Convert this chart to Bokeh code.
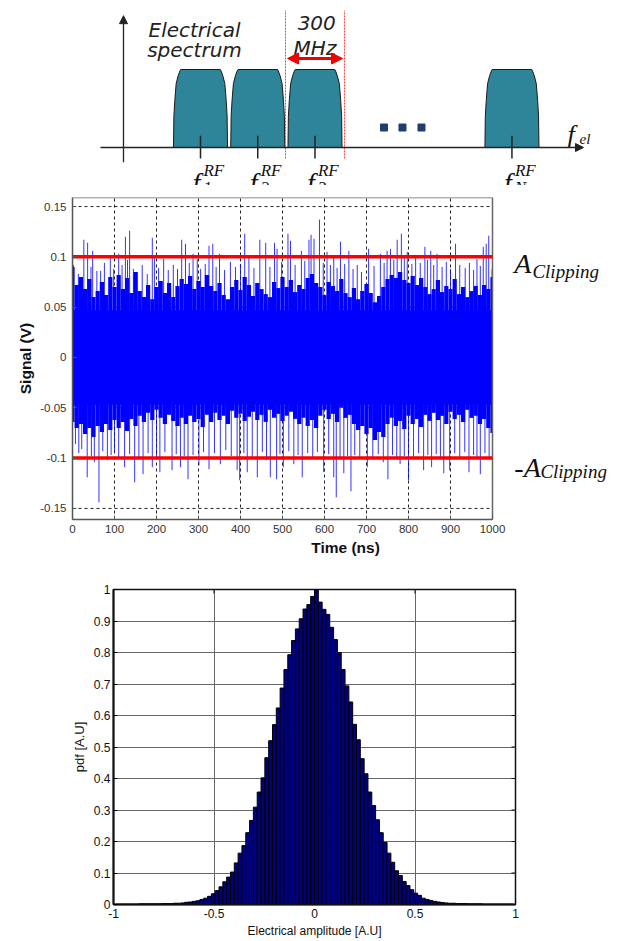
from bokeh.plotting import figure
from bokeh.models import Range1d, Arrow, NormalHead, FixedTicker, NumeralTickFormatter
from bokeh.core.properties import value
from bokeh.embed import file_html
from bokeh.resources import INLINE

# ======================= DATA =======================
# (a) electrical spectrum schematic  (x: channel-spacing units, y: relative level)
channel_names = ["1", "2", "3", "N"]
channel_freq = [1.0, 2.0, 3.0, 6.44]
ellipsis_freq = [4.205, 4.528, 4.86]
ellipsis_level = 0.256
band_edges = [2.485, 3.515]          # one 300 MHz channel slot
band_label = ["300", "MHz"]
band_level = 1.0
spectrum_title = ["Electrical", "spectrum"]
freq_axis_span = [-0.747, 7.69]
level_axis_pos = -0.345
level_axis_span = [-0.19, 1.69]

# (b) time-domain signal
time_ticks = [0, 100, 200, 300, 400, 500, 600, 700, 800, 900, 1000]
signal_ticks = [-0.15, -0.1, -0.05, 0, 0.05, 0.1, 0.15]
signal_lims = [-0.161, 0.159]
clip_level = 0.1
clip_labels = ["A", "Clipping", "-A", "Clipping"]
core_level = 0.047
env_time = list(range(0, 1001, 10))
env_upper = [
    0.090, 0.072, 0.080, 0.068, 0.078, 0.060, 0.066, 0.075, 0.062, 0.080,
    0.070, 0.082, 0.068, 0.079, 0.064, 0.085, 0.066, 0.060, 0.072, 0.058,
    0.070, 0.076, 0.064, 0.074, 0.060, 0.071, 0.078, 0.073, 0.081, 0.068,
    0.076, 0.070, 0.082, 0.071, 0.066, 0.074, 0.062, 0.058, 0.070, 0.077,
    0.067, 0.080, 0.072, 0.061, 0.074, 0.068, 0.063, 0.060, 0.075, 0.069,
    0.080, 0.070, 0.077, 0.065, 0.072, 0.068, 0.079, 0.083, 0.074, 0.070,
    0.062, 0.075, 0.071, 0.066, 0.078, 0.064, 0.060, 0.069, 0.058, 0.066,
    0.073, 0.064, 0.055, 0.061, 0.070, 0.078, 0.082, 0.079, 0.085, 0.077,
    0.074, 0.081, 0.072, 0.079, 0.070, 0.063, 0.068, 0.077, 0.065, 0.071,
    0.068, 0.078, 0.063, 0.070, 0.060, 0.066, 0.071, 0.062, 0.072, 0.068,
    0.080]
env_lower = [
    -0.064, -0.070, -0.066, -0.076, -0.070, -0.079, -0.068, -0.074, -0.066, -0.072,
    -0.062, -0.070, -0.064, -0.073, -0.061, -0.068, -0.058, -0.064, -0.055, -0.062,
    -0.052, -0.060, -0.066, -0.057, -0.063, -0.068, -0.060, -0.066, -0.058, -0.064,
    -0.061, -0.069, -0.057, -0.064, -0.055, -0.062, -0.058, -0.066, -0.053, -0.060,
    -0.056, -0.063, -0.059, -0.054, -0.062, -0.057, -0.064, -0.052, -0.060, -0.056,
    -0.063, -0.058, -0.054, -0.061, -0.066, -0.060, -0.068, -0.062, -0.070, -0.058,
    -0.052, -0.061, -0.056, -0.064, -0.050, -0.060, -0.057, -0.066, -0.072, -0.068,
    -0.076, -0.070, -0.082, -0.074, -0.079, -0.066, -0.060, -0.068, -0.063, -0.071,
    -0.058, -0.066, -0.061, -0.069, -0.057, -0.063, -0.055, -0.062, -0.058, -0.066,
    -0.054, -0.061, -0.057, -0.064, -0.052, -0.060, -0.058, -0.066, -0.061, -0.070,
    -0.075]
peak_up_t = [2, 14, 27, 36, 44, 48, 58, 67, 76, 90, 98, 110, 118, 126, 131, 136, 145, 154, 166, 178,
             190, 195, 205, 217, 228, 240, 250, 260, 269, 278, 287, 297, 305, 316, 325, 334, 342, 350, 362, 376,
             388, 400, 410, 420, 432, 446, 460, 470, 481, 487, 498, 513, 519, 530, 545, 553, 563, 568, 575, 588,
             597, 606, 614, 622, 630, 638, 648, 658, 668, 678, 688, 705, 718, 733, 742, 749, 757, 765, 773, 783,
             790, 797, 808, 817, 828, 839, 845, 853, 860, 868, 880, 890, 900, 912, 922, 935, 945, 955, 963, 971,
             978, 985, 991, 999]
peak_up_v = [.092, .083, .117, .114, .090, .106, .086, .086, .094, .101, .088, .103, .092, .120, .097, .126, .088, .085, .092, .083,
             .119, .101, .089, .098, .087, .092, .088, .117, .113, .094, .103, .098, .088, .093, .111, .113, .090, .103, .087, .095,
             .090, .093, .123, .100, .089, .117, .114, .090, .114, .108, .095, .123, .116, .092, .106, .096, .117, .122, .118, .137,
             .094, .105, .092, .100, .089, .115, .093, .106, .088, .092, .085, .108, .091, .103, .094, .106, .108, .097, .117, .123,
             .099, .105, .093, .102, .094, .110, .097, .106, .092, .103, .090, .095, .088, .113, .092, .089, .094, .087, .098, .091,
             .110, .113, .121, .088]
peak_dn_t = [7, 15, 22, 35, 45, 52, 63, 72, 83, 92, 100, 110, 124, 136, 148, 158, 168, 180, 190, 200,
             208, 220, 237, 247, 257, 266, 275, 287, 301, 312, 325, 338, 352, 365, 378, 392, 398, 408, 416, 428,
             440, 452, 462, 471, 486, 494, 502, 515, 527, 537, 547, 560, 572, 583, 598, 610, 622, 628, 637, 646,
             655, 663, 672, 684, 702, 715, 728, 740, 751, 762, 772, 780, 790, 800, 812, 824, 836, 846, 855, 866,
             876, 884, 898, 910, 922, 934, 944, 955, 963, 971, 982, 992]
peak_dn_v = [-.086, -.095, -.091, -.119, -.098, -.104, -.144, -.093, -.102, -.097, -.094, -.100, -.109, -.096, -.124, -.101, -.116, -.095, -.109, -.099,
             -.114, -.094, -.112, -.096, -.109, -.098, -.121, -.097, -.107, -.094, -.111, -.095, -.106, -.092, -.098, -.112, -.122, -.095, -.114, -.099,
             -.119, -.094, -.102, -.119, -.121, -.096, -.109, -.093, -.106, -.097, -.119, -.095, -.100, -.094, -.114, -.096, -.119, -.139, -.101, -.115,
             -.098, -.133, -.097, -.100, -.109, -.101, -.096, -.104, -.121, -.097, -.101, -.106, -.098, -.122, -.099, -.095, -.112, -.097, -.109, -.096,
             -.101, -.115, -.112, -.095, -.100, -.094, -.114, -.097, -.101, -.116, -.095, -.100]

# (c) amplitude histogram
bin_width = 0.019
hist_centers = [
    -0.9785, -0.9595, -0.9405, -0.9215, -0.9025, -0.8835, -0.8645, -0.8455, -0.8265, -0.8075,
    -0.7885, -0.7695, -0.7505, -0.7315, -0.7125, -0.6935, -0.6745, -0.6555, -0.6365, -0.6175,
    -0.5985, -0.5795, -0.5605, -0.5415, -0.5225, -0.5035, -0.4845, -0.4655, -0.4465, -0.4275,
    -0.4085, -0.3895, -0.3705, -0.3515, -0.3325, -0.3135, -0.2945, -0.2755, -0.2565, -0.2375,
    -0.2185, -0.1995, -0.1805, -0.1615, -0.1425, -0.1235, -0.1045, -0.0855, -0.0665, -0.0475,
    -0.0285, -0.0095,
    0.0095, 0.0285, 0.0475, 0.0665, 0.0855, 0.1045, 0.1235, 0.1425, 0.1615, 0.1805,
    0.1995, 0.2185, 0.2375, 0.2565, 0.2755, 0.2945, 0.3135, 0.3325, 0.3515, 0.3705,
    0.3895, 0.4085, 0.4275, 0.4465, 0.4655, 0.4845, 0.5035, 0.5225, 0.5415, 0.5605,
    0.5795, 0.5985, 0.6175, 0.6365, 0.6555, 0.6745, 0.6935, 0.7125, 0.7315, 0.7505,
    0.7695, 0.7885, 0.8075, 0.8265, 0.8455, 0.8645, 0.8835, 0.9025, 0.9215, 0.9405,
    0.9595, 0.9785]
hist_pdf = [
    0.001, 0.001, 0.001, 0.001, 0.001, 0.001, 0.002, 0.002, 0.002, 0.002,
    0.002, 0.002, 0.003, 0.003, 0.003, 0.004, 0.004, 0.005, 0.007, 0.008,
    0.010, 0.012, 0.016, 0.020, 0.026, 0.034, 0.044, 0.056, 0.072, 0.087,
    0.103, 0.132, 0.163, 0.187, 0.228, 0.267, 0.309, 0.357, 0.402, 0.466,
    0.520, 0.571, 0.624, 0.687, 0.746, 0.793, 0.838, 0.875, 0.907, 0.938,
    0.952, 0.978,
    1.000, 0.960, 0.937, 0.921, 0.880, 0.841, 0.800, 0.746, 0.694, 0.643,
    0.572, 0.523, 0.463, 0.415, 0.357, 0.314, 0.269, 0.228, 0.197, 0.163,
    0.134, 0.107, 0.092, 0.073, 0.060, 0.047, 0.036, 0.029, 0.020, 0.016,
    0.013, 0.010, 0.008, 0.006, 0.005, 0.004, 0.004, 0.003, 0.003, 0.003,
    0.002, 0.002, 0.002, 0.002, 0.001, 0.001, 0.001, 0.001, 0.001, 0.001,
    0.001, 0.001]
amp_ticks = [-1, -0.5, 0, 0.5, 1]
pdf_ticks = [0, 0.1, 0.2, 0.3, 0.4, 0.5, 0.6, 0.7, 0.8, 0.9, 1]

SERIF = "Liberation Serif"
SANS = "Liberation Sans"
RED = "#f00000"
BLUE = "#0000ff"
W = 618

# ======================= (a) SCHEMATIC =======================
pa = figure(width=W, height=185, x_range=Range1d(-2.4934, 8.3013), y_range=Range1d(-0.4872, 1.8846),
            output_backend="svg", toolbar_location=None, min_border=0,
            x_axis_location=None, y_axis_location=None)
pa.outline_line_color = None
pa.grid.visible = False

tpl_dx = [-0.472, -0.465, -0.449, -0.425, -0.39, -0.36, -0.345, 0.345, 0.36, 0.39, 0.425, 0.449, 0.465, 0.472]
tpl_a = [0, 0.4, 0.6, 0.82, 0.92, 0.98, 1.0, 1.0, 0.98, 0.92, 0.82, 0.6, 0.4, 0]
pa.patches([[c + d for d in tpl_dx] for c in channel_freq],
           [[band_level * a for a in tpl_a] for _ in channel_freq],
           fill_color="#2E8599", line_color="#1a1a1a", line_width=1)

pa.add_layout(Arrow(end=NormalHead(size=8, fill_color="#222", line_color="#222"),
                    x_start=freq_axis_span[0], y_start=0, x_end=freq_axis_span[1], y_end=0,
                    line_color="#222", line_width=1.3))
pa.add_layout(Arrow(end=NormalHead(size=8, fill_color="#222", line_color="#222"),
                    x_start=level_axis_pos, y_start=level_axis_span[0],
                    x_end=level_axis_pos, y_end=level_axis_span[1],
                    line_color="#222", line_width=1.3))

pa.segment(x0=channel_freq, y0=0.15, x1=channel_freq, y1=-0.14, line_color="#222", line_width=1.5)

pa.text(x=[c - 0.14 for c in channel_freq], y=-0.449, text=["f"] * len(channel_freq),
        text_font=value(SERIF), text_font_style="italic", text_font_size="28px",
        text_baseline="alphabetic", text_color="#111")
pa.text(x=[c + 0.052 for c in channel_freq], y=-0.295, text=["RF"] * len(channel_freq),
        text_font=value(SERIF), text_font_style="italic", text_font_size="17px",
        text_baseline="alphabetic", text_color="#111")
pa.text(x=[c + 0.05 for c in channel_freq], y=-0.513, text=channel_names,
        text_font=value(SERIF), text_font_style="italic", text_font_size="17px",
        text_baseline="alphabetic", text_color="#111")

pa.text(x=[7.41], y=[0.167], text=["f"], text_font=value(SERIF), text_font_style="italic",
        text_font_size="26px", text_baseline="alphabetic", text_color="#111")
pa.text(x=[7.62], y=[0.115], text=["el"], text_font=value(SERIF), text_font_style="italic",
        text_font_size="15px", text_baseline="alphabetic", text_color="#111")

pa.scatter(ellipsis_freq, [ellipsis_level] * len(ellipsis_freq), marker="square", size=7,
           fill_color="#1F3E6E", line_color="#1F3E6E")

pa.segment(x0=band_edges, y0=-0.141, x1=band_edges, y1=1.756, line_color="#ff4040",
           line_dash="2 1", line_width=1)
pa.add_layout(Arrow(start=NormalHead(size=11, fill_color=RED, line_color=RED),
                    end=NormalHead(size=11, fill_color=RED, line_color=RED),
                    x_start=band_edges[0] + 0.035, y_start=1.141,
                    x_end=band_edges[1] - 0.035, y_end=1.141,
                    line_color=RED, line_width=3))
mid = (band_edges[0] + band_edges[1]) / 2
pa.text(x=[mid + 0.03, mid], y=[1.59, 1.282], text=band_label, text_align="center",
        text_font=value("DejaVu Sans"), text_font_style="italic", text_font_size="20px",
        text_baseline="alphabetic", text_color="#222")
pa.text(x=[0.895, 0.895], y=[1.5, 1.256], text=spectrum_title, text_align="center",
        text_font=value("DejaVu Sans"), text_font_style="italic", text_font_size="20px",
        text_baseline="alphabetic", text_color="#222")

# ======================= (b) TIME SIGNAL =======================
t0, t1 = time_ticks[0], time_ticks[-1]
pb = figure(width=W, height=377, x_range=Range1d(0, 1300), y_range=Range1d(*signal_lims),
            output_backend="svg", toolbar_location=None,
            min_border_left=72, min_border_right=0, min_border_top=12, min_border_bottom=43)
pb.outline_line_color = None
for ax in (pb.xaxis, pb.yaxis):
    ax.major_tick_in = 4
    ax.major_tick_out = 0
    ax.minor_tick_line_color = None
    ax.axis_line_color = "#555"
    ax.axis_line_width = 1.5
    ax.major_tick_line_color = "#555"
    ax.major_label_text_font = SANS
    ax.major_label_text_font_size = "11.5px"
    ax.major_label_text_color = "#333"
    ax.axis_label_text_font = SANS
    ax.axis_label_text_font_style = "bold"
    ax.axis_label_text_font_size = "15.5px"
    ax.axis_label_text_color = "#111"
pb.xaxis.ticker = FixedTicker(ticks=time_ticks)
pb.xaxis.bounds = (t0, t1)
pb.yaxis.ticker = FixedTicker(ticks=signal_ticks)
pb.yaxis.formatter = NumeralTickFormatter(format="0.[00]")
pb.xaxis.axis_label = "Time (ns)"
pb.yaxis.axis_label = "Signal (V)"
pb.xaxis.major_label_standoff = 5
pb.xaxis.axis_label_standoff = 3
pb.yaxis.major_label_standoff = 6
pb.yaxis.axis_label_standoff = 3
pb.xgrid.ticker = FixedTicker(ticks=time_ticks[1:-1])
pb.xgrid.grid_line_color = "#222"
pb.xgrid.grid_line_dash = "3 3"
pb.ygrid.visible = False
pb.segment(x0=t0, y0=signal_ticks, x1=t1, y1=signal_ticks, line_color="#222", line_dash="3 3", line_width=1)

pb.quad(left=t0, right=t1, bottom=-core_level, top=core_level, fill_color=BLUE, line_color=None)
pb.vbar(x=env_time, width=10, top=env_upper, bottom=env_lower, fill_color=BLUE, line_color=None)
pb.segment(x0=peak_up_t, y0=0, x1=peak_up_t, y1=peak_up_v, line_color=BLUE, line_width=1, line_alpha=0.8)
pb.segment(x0=peak_dn_t, y0=0, x1=peak_dn_t, y1=peak_dn_v, line_color=BLUE, line_width=1, line_alpha=0.8)

# white mask right of the 1000 ns border, then box top / right
pb.quad(left=t1, right=1300, bottom=signal_lims[0], top=signal_lims[1], fill_color="white", line_color=None)
pb.segment(x0=[t0, t1], y0=[signal_lims[1], signal_lims[0]], x1=[t1, t1], y1=[signal_lims[1], signal_lims[1]],
           line_color="#666", line_width=1.5)

pb.segment(x0=t0, y0=[clip_level, -clip_level], x1=t1, y1=[clip_level, -clip_level],
           line_color="#ff0000", line_width=3.5)

pb.text(x=[1052, 1095, 1052, 1114], y=[0.0934, 0.0854, -0.1093, -0.1132], text=clip_labels,
        text_font=value(SERIF), text_font_style="italic",
        text_font_size=["28px", "19px", "28px", "19px"], text_baseline="alphabetic", text_color="#111")

# ======================= (c) HISTOGRAM =======================
pc = figure(width=W, height=379, x_range=Range1d(-1, 1), y_range=Range1d(0, 1),
            output_backend="svg", toolbar_location=None,
            min_border_left=113, min_border_right=103, min_border_top=27, min_border_bottom=37)
pc.outline_line_color = "#111"
pc.outline_line_width = 1.5
for ax in (pc.xaxis, pc.yaxis):
    ax.major_tick_in = 4
    ax.major_tick_out = 0
    ax.minor_tick_line_color = None
    ax.axis_line_color = "#111"
    ax.axis_line_width = 2
    ax.major_label_text_font = SANS
    ax.major_label_text_font_size = "12px"
    ax.major_label_text_color = "#111"
    ax.axis_label_text_font = SANS
    ax.axis_label_text_font_style = "normal"
    ax.axis_label_text_color = "#111"
pc.xaxis.axis_label_text_font_size = "12px"
pc.yaxis.axis_label_text_font_size = "13px"
pc.xaxis.ticker = FixedTicker(ticks=amp_ticks)
pc.yaxis.ticker = FixedTicker(ticks=pdf_ticks)
pc.xaxis.formatter = NumeralTickFormatter(format="0.[0]")
pc.yaxis.formatter = NumeralTickFormatter(format="0.[0]")
pc.xaxis.axis_label = "Electrical amplitude [A.U]"
pc.yaxis.axis_label = "pdf [A.U]"
pc.xaxis.major_label_standoff = 4
pc.xaxis.axis_label_standoff = 3
pc.yaxis.major_label_standoff = 3
pc.yaxis.axis_label_standoff = 4
pc.xgrid.ticker = FixedTicker(ticks=amp_ticks[1:-1])
pc.ygrid.ticker = FixedTicker(ticks=pdf_ticks[1:-1])
for g in (pc.xgrid, pc.ygrid):
    g.grid_line_color = "#666"
    g.grid_line_width = 1

pc.segment(x0=amp_ticks[-1], y0=pdf_ticks, x1=amp_ticks[-1] - 0.02, y1=pdf_ticks, line_color="#111", line_width=1)
pc.segment(x0=amp_ticks, y0=pdf_ticks[-1], x1=amp_ticks, y1=pdf_ticks[-1] - 0.013, line_color="#111", line_width=1)

pc.vbar(x=hist_centers, width=bin_width, top=hist_pdf, bottom=0,
        fill_color="#000080", line_color="#000000", line_width=1)

open("out.html", "w").write(file_html([pa, pb, pc], INLINE, "chart"))
